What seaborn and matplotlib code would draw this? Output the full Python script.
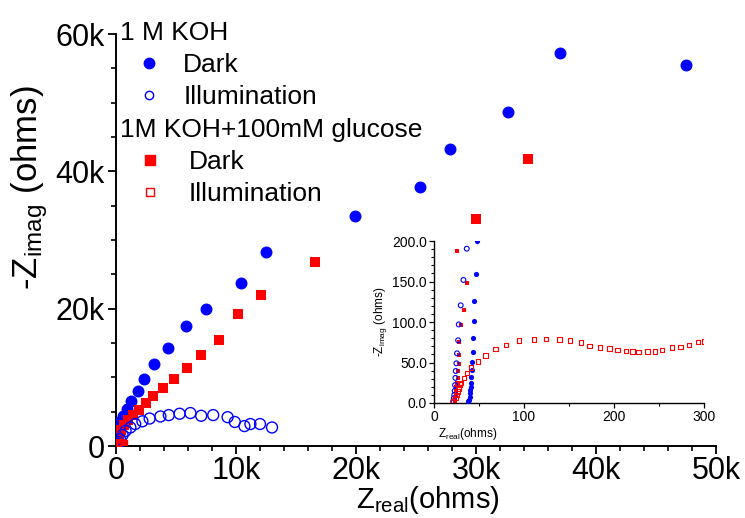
import numpy as np
import pandas as pd
import matplotlib
matplotlib.use("Agg")
import matplotlib.pyplot as plt
import seaborn as sns
from matplotlib.ticker import MultipleLocator, FuncFormatter, FormatStrFormatter
from matplotlib.lines import Line2D

# ---------------- data (ohms) ----------------
koh_dark_x = [37.9, 38.5, 39.5, 40.0, 40.3, 40.9, 41.3, 41.6, 42.0, 42.4, 42.8, 43.5, 44.2, 45.0, 46.5, 47.6,
              70, 110, 170, 220, 280, 560, 900, 1250, 1800, 2300, 3200, 4300, 5800, 7500,
              10400, 12500, 19900, 25300, 27800, 32700, 37000, 47500]
koh_dark_y = [2.9, 4, 8, 12, 16, 20, 25, 32, 40.3, 51, 63.4, 80.7, 101.6, 126, 159, 200,
              500, 1100, 2000, 2800, 3500, 4400, 5400, 6550, 8000, 9800, 12000, 14300, 17500, 20000,
              23700, 28200, 33500, 37700, 43200, 48700, 57200, 55500]

koh_ill_x = [21.2, 22.0, 22.5, 23.0, 23.4, 23.8, 24.2, 24.9, 25.6, 26.8, 27.5, 29.7, 32.7, 36.4,
             80, 200, 330, 550, 800, 1200, 1600, 2200, 2800, 3700, 4400, 5300, 6200, 7100,
             8100, 9300, 9900, 10700, 11200, 12000, 13000]
koh_ill_y = [2, 6, 10, 15, 22, 31, 39.5, 49, 61.3, 77.4, 97, 120.6, 151.9, 190.5,
             350, 600, 1000, 1600, 2200, 2700, 3200, 3600, 4000, 4300, 4500, 4700, 4800, 4400,
             4500, 4200, 3500, 2900, 3200, 3200, 2700]

glu_dark_x = [23.0, 23.5, 24.0, 24.5, 25.0, 25.5, 26.4, 26.8, 27.9, 27.5, 27.5, 30.1, 33.8, 36.4, 25.7,
              60, 120, 250, 420, 670, 1000, 1450, 1900, 2500, 3100, 3900, 4800, 5900, 7100,
              8600, 10200, 12100, 16600, 30000, 34300]
glu_dark_y = [2, 6, 10, 15, 20, 25, 30.5, 40, 48.1, 59.3, 74.9, 96.3, 114.4, 147.7, 187.6,
              400, 800, 1600, 2300, 3060, 3800, 4500, 5200, 6200, 7300, 8400, 9700, 11300, 13300,
              15400, 19200, 22000, 26800, 33100, 41800]

glu_ill_x = [21.2, 23.8, 24.9, 26.0, 27.1, 28.6, 30.1, 33.1, 36.8, 40.9, 48.7, 57.2, 68.4, 80.3, 94.4,
             110.8, 124.2, 139.4, 151.3, 163.6, 172.9, 184.4, 194.8, 204.1, 213.0, 220.4, 227.1,
             237.2, 245.4, 253.2, 264.3, 274.0, 283.3, 293.0, 300.0, 420, 520]
glu_ill_y = [2, 5.8, 10, 14, 17.7, 22.6, 25, 30.5, 37, 44, 51, 58.8, 66.3, 71.6, 77,
             78.6, 79, 78.2, 77, 74.5, 70.4, 68.7, 67.5, 65.4, 64.2, 63.4, 62.6,
             63.8, 63.4, 65.8, 68.3, 69.5, 71.6, 75.3, 75.7, 85, 95]

BLUE = "#0000FF"
RED = "#FF0000"

sns.set_theme(style="ticks")
plt.rcParams['font.family'] = ['Liberation Sans', 'DejaVu Sans']
plt.rcParams['mathtext.default'] = 'regular'
plt.rcParams['text.color'] = 'black'
plt.rcParams['axes.labelcolor'] = 'black'
plt.rcParams['xtick.color'] = 'black'
plt.rcParams['ytick.color'] = 'black'

fig = plt.figure(figsize=(7.45, 5.18), dpi=100)
ax = fig.add_axes([116 / 745, 1 - 446 / 518, 600 / 745, 412 / 518])


def draw(a, big):
    s_c, s_s, s_oc, s_os, lw = (74, 55, 62, 55, 1.0) if big else (14, 11, 12, 10, 0.8)
    sns.scatterplot(x=koh_dark_x, y=koh_dark_y, ax=a, marker='o', s=s_c,
                    color=BLUE, edgecolor=BLUE, linewidth=0, zorder=3)
    sns.scatterplot(x=glu_dark_x, y=glu_dark_y, ax=a, marker='s', s=s_s,
                    color=RED, edgecolor=RED, linewidth=0, zorder=4)
    sns.scatterplot(x=koh_ill_x, y=koh_ill_y, ax=a, marker='o', s=s_oc,
                    facecolor='none', edgecolor=BLUE, linewidth=lw, zorder=5)
    sns.scatterplot(x=glu_ill_x, y=glu_ill_y, ax=a, marker='s', s=s_os,
                    facecolor='none', edgecolor=RED, linewidth=lw, zorder=6)


draw(ax, True)
ax.set_xlim(0, 50000)
ax.set_ylim(0, 60000)
sns.despine(ax=ax)
for sp in ['left', 'bottom']:
    ax.spines[sp].set_linewidth(1.4)
    ax.spines[sp].set_color('black')
ax.xaxis.set_major_locator(MultipleLocator(10000))
ax.xaxis.set_minor_locator(MultipleLocator(2000))
ax.yaxis.set_major_locator(MultipleLocator(20000))
ax.yaxis.set_minor_locator(MultipleLocator(5000))
kfmt = FuncFormatter(lambda v, p: "0" if v == 0 else f"{v/1000:.0f}k")
ax.xaxis.set_major_formatter(kfmt)
ax.yaxis.set_major_formatter(kfmt)
ax.tick_params(which='major', direction='out', length=6, width=1.3, labelsize=22, colors='black', pad=2)
ax.tick_params(which='minor', direction='out', length=3.5, width=1.2, colors='black')
ax.tick_params(axis='x', which='major', pad=1)
ax.set_xlabel("Z$_{real}$(ohms)", fontsize=21, color='black')
ax.xaxis.set_label_coords(0.52, -0.092)
ax.set_ylabel("-Z$_{imag}$ (ohms)", fontsize=25, color='black')
ax.yaxis.set_label_coords(-0.11, 0.626)

# ---------------- legend ----------------
h_dark_b = Line2D([], [], ls='', marker='o', markersize=7.5, color=BLUE, mec=BLUE)
h_ill_b = Line2D([], [], ls='', marker='o', markersize=6, mfc='none', mec=BLUE, mew=1.0)
h_dark_r = Line2D([], [], ls='', marker='s', markersize=6.5, color=RED, mec=RED)
h_ill_r = Line2D([], [], ls='', marker='s', markersize=6, mfc='none', mec=RED, mew=1.0)

leg1 = fig.legend([h_dark_b, h_ill_b], ["Dark", "Illumination"], title="1 M KOH",
                  loc='upper left', bbox_to_anchor=(120 / 745, 1 - 21 / 518),
                  frameon=False, fontsize=19, title_fontsize=19, alignment='left',
                  borderpad=0, borderaxespad=0, handlelength=2.2, handletextpad=0.2,
                  labelspacing=0.3, labelcolor='black')
leg2 = fig.legend([h_dark_r, h_ill_r], ["Dark", "Illumination"], title="1M KOH+100mM glucose",
                  loc='upper left', bbox_to_anchor=(120 / 745, 1 - 118 / 518),
                  frameon=False, fontsize=19, title_fontsize=19, alignment='left',
                  borderpad=0, borderaxespad=0, handlelength=2.3, handletextpad=0.3,
                  labelspacing=0.3, labelcolor='black')
for lg in (leg1, leg2):
    lg.get_title().set_color('black')

# ---------------- inset ----------------
axi = fig.add_axes([434 / 745, 1 - 403 / 518, 270 / 745, 162 / 518])
axi.patch.set_alpha(0)
draw(axi, False)
axi.set_xlim(0, 300)
axi.set_ylim(0, 200)
sns.despine(ax=axi)
for sp in ['left', 'bottom']:
    axi.spines[sp].set_linewidth(1.0)
    axi.spines[sp].set_color('black')
axi.xaxis.set_major_locator(MultipleLocator(100))
axi.xaxis.set_minor_locator(MultipleLocator(50))
axi.yaxis.set_major_locator(MultipleLocator(50))
axi.yaxis.set_minor_locator(MultipleLocator(10))
axi.yaxis.set_major_formatter(FormatStrFormatter('%.1f'))
axi.tick_params(which='major', direction='out', length=3.5, width=0.9, labelsize=10, colors='black', pad=1.5)
axi.tick_params(which='minor', direction='out', length=2, width=0.8, colors='black')
axi.set_xlabel("Z$_{real}$(ohms)", fontsize=8.5, color='black')
axi.xaxis.set_label_coords(0.126, -0.14)
axi.set_ylabel("-Z$_{imag}$ (ohms)", fontsize=8.5, labelpad=2, color='black')

fig.savefig("out.png", dpi=100)
